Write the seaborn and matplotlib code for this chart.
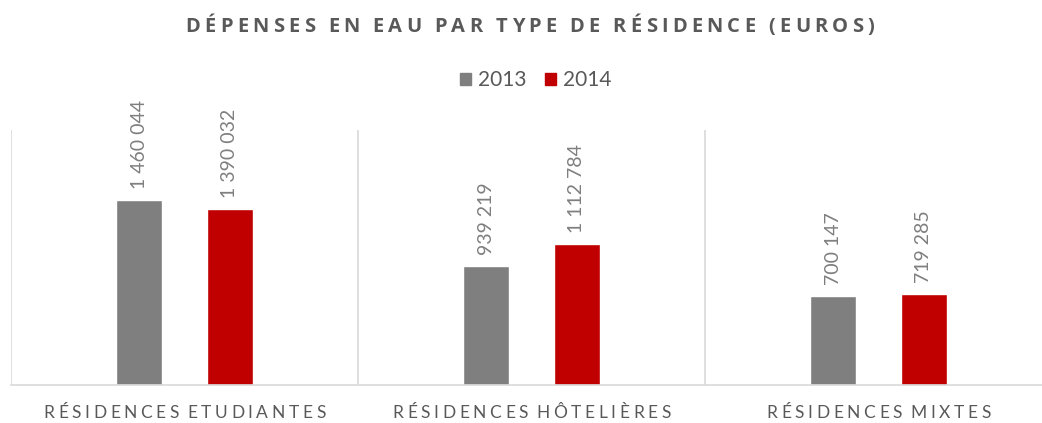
import numpy as np
import pandas as pd
import seaborn as sns
import matplotlib.pyplot as plt
from matplotlib.font_manager import FontProperties

# ===== DATA =====
categories = ["RÉSIDENCES ETUDIANTES", "RÉSIDENCES HÔTELIÈRES", "RÉSIDENCES MIXTES"]
years = ["2013", "2014"]
values_2013 = [1460044, 939219, 700147]
values_2014 = [1390032, 1112784, 719285]
title = "DÉPENSES EN EAU PAR TYPE DE RÉSIDENCE (EUROS)"

df = pd.DataFrame({
    "categorie": categories * 2,
    "annee": [years[0]] * 3 + [years[1]] * 3,
    "valeur": values_2013 + values_2014,
})

sns.set_theme(style="white")
plt.rcParams["font.family"] = ["Lato", "DejaVu Sans"]

W, H = 1042, 423
text_gray = "#595959"
palette = {"2013": "#7f7f7f", "2014": "#c00000"}

fig = plt.figure(figsize=(W / 100, H / 100), dpi=100)
ax = fig.add_axes([11 / W, 38 / H, 1041 / W, 255 / H])

sns.barplot(data=df, x="categorie", y="valeur", hue="annee", palette=palette,
            width=0.52, gap=0.49, saturation=1, ax=ax, legend=False)

ymax = 2010000
ax.set_ylim(0, ymax)
ax.set_xlim(-0.5, 2.5)

# ===== VALUE LABELS =====
for container in ax.containers:
    labels = [f"{int(v):,}".replace(",", " ") for v in container.datavalues]
    ax.bar_label(container, labels=labels, rotation=90, padding=8,
                 color="#7f7f7f", fontsize=14)

# ===== DIVIDERS =====
ax.vlines([-0.5, 0.5, 1.5, 2.5], 0, ymax, color="#d9d9d9", lw=1.2)
for s in ["top", "right", "left"]:
    ax.spines[s].set_visible(False)
ax.spines["bottom"].set_color("#d9d9d9")
ax.spines["bottom"].set_linewidth(1.2)

ax.set_yticks([])
ax.set_xticks([])
ax.set_xlabel("")
ax.set_ylabel("")

# ===== LETTER-SPACED TEXT =====
renderer = fig.canvas.get_renderer()


def char_width(c, fp):
    w1, _, _ = renderer.get_text_width_height_descent("|" + c + "|", fp, ismath=False)
    w0, _, _ = renderer.get_text_width_height_descent("||", fp, ismath=False)
    return w1 - w0


def spaced_text(xc, y_base, s, spacing, fp, color, space_scale=1.0):
    widths = [char_width(c, fp) * (space_scale if c == " " else 1) for c in s]
    total = sum(widths) + spacing * (len(s) - 1)
    x = xc - total / 2
    for c, w in zip(s, widths):
        fig.text(x / W, 1 - y_base / H, c, ha="left", va="baseline",
                 fontproperties=fp, color=color)
        x += w + spacing


fp_title = FontProperties(family=["Open Sans", "DejaVu Sans"], size=14.5, weight="bold")
spaced_text(530, 32, title, 4.3, fp_title, text_gray, space_scale=0.8)

fp_cat = FontProperties(family=["Lato", "DejaVu Sans"], size=12.5)
for i, cat in enumerate(categories):
    xc = ax.transData.transform((i, 0))[0]
    spaced_text(xc, 418, cat, 3.6, fp_cat, text_gray, space_scale=0.3)

# ===== LEGEND =====
handles = [plt.Rectangle((0, 0), 1, 1, color=palette[y]) for y in years]
fig.legend(handles, years, loc="center", bbox_to_anchor=(536 / W, 1 - 80 / H),
           ncol=2, frameon=False, fontsize=15, labelcolor=text_gray,
           handlelength=0.5, handleheight=0.5, handletextpad=0.35, columnspacing=0.9)

fig.savefig("out.png", dpi=100)
